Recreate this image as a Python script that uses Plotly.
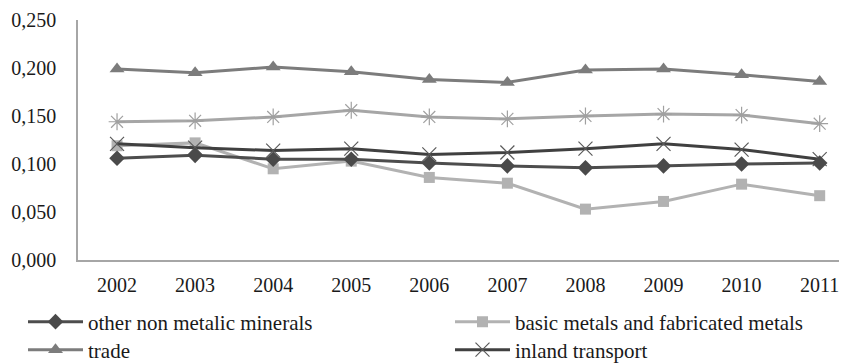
import plotly.graph_objects as go

years = ["2002", "2003", "2004", "2005", "2006", "2007", "2008", "2009", "2010", "2011"]
other_non_metalic = [0.106, 0.109, 0.105, 0.105, 0.101, 0.098, 0.096, 0.098, 0.100, 0.101]
basic_metals = [0.119, 0.122, 0.095, 0.103, 0.086, 0.080, 0.053, 0.061, 0.079, 0.067]
trade = [0.199, 0.195, 0.201, 0.196, 0.188, 0.185, 0.198, 0.199, 0.193, 0.186]
inland_transport = [0.121, 0.117, 0.114, 0.116, 0.110, 0.112, 0.116, 0.121, 0.115, 0.105]
fifth_series = [0.144, 0.145, 0.149, 0.156, 0.149, 0.147, 0.150, 0.152, 0.151, 0.142]

FONT = "Liberation Serif"
TICK_FS = 20
LEG_FS = 21
TXT = "#1a1a1a"

fig = go.Figure()

fig.add_trace(go.Scatter(x=years, y=trade, name="trade", mode="lines+markers",
                         line=dict(color="#7c7c7c", width=3),
                         marker=dict(symbol="triangle-up", size=13, color="#7c7c7c"),
                         legend="legend3"))
fig.add_trace(go.Scatter(x=years, y=fifth_series, name="", mode="lines+markers",
                         line=dict(color="#a6a6a6", width=3),
                         marker=dict(symbol="asterisk-open", size=14, color="#a0a0a0",
                                     line=dict(width=1.2, color="#a0a0a0")),
                         showlegend=False))
fig.add_trace(go.Scatter(x=years, y=basic_metals, name="basic metals and fabricated metals", mode="lines+markers",
                         line=dict(color="#b2b2b2", width=3),
                         marker=dict(symbol="square", size=11, color="#b2b2b2"),
                         legend="legend2"))
fig.add_trace(go.Scatter(x=years, y=inland_transport, name="inland transport", mode="lines+markers",
                         line=dict(color="#404040", width=3),
                         marker=dict(symbol="x-thin-open", size=14, color="#5a5a5a",
                                     line=dict(width=1.2, color="#5a5a5a")),
                         legend="legend4"))
fig.add_trace(go.Scatter(x=years, y=other_non_metalic, name="other non metalic minerals", mode="lines+markers",
                         line=dict(color="#4d4d4d", width=3),
                         marker=dict(symbol="diamond", size=12, color="#4a4a4a"),
                         legend="legend"))

def leg(xpx, ypx):
    return dict(orientation="h", x=xpx / 847, xref="container", y=1 - ypx / 363, yref="container",
                yanchor="middle", xanchor="left", font=dict(family=FONT, size=LEG_FS, color=TXT),
                bgcolor="rgba(0,0,0,0)", borderwidth=0, itemwidth=55)

fig.update_layout(
    width=847, height=363,
    margin=dict(l=70, r=8, t=12, b=111),
    plot_bgcolor="white", paper_bgcolor="white",
    separators=",.",
    font=dict(family=FONT, size=TICK_FS, color=TXT),
    xaxis=dict(range=[-0.5, 9.35], showgrid=False, showline=True, linecolor="#a6a6a6", linewidth=2,
               ticks="", automargin=False, ticklabelstandoff=6, ticklabeloverflow="allow",
               tickfont=dict(family=FONT, size=TICK_FS, color=TXT)),
    yaxis=dict(range=[0, 0.25], tickvals=[0, 0.05, 0.1, 0.15, 0.2, 0.25], tickformat=".3f",
               showgrid=False, showline=True, linecolor="#a6a6a6", linewidth=1.5, zeroline=False,
               ticks="", automargin=False, ticklabelstandoff=16, ticklabeloverflow="allow",
               tickfont=dict(family=FONT, size=TICK_FS, color=TXT)),
    legend=leg(15, 314),
    legend2=leg(442, 314),
    legend3=leg(15, 342),
    legend4=leg(442, 342),
)

fig.write_html("out.html")
